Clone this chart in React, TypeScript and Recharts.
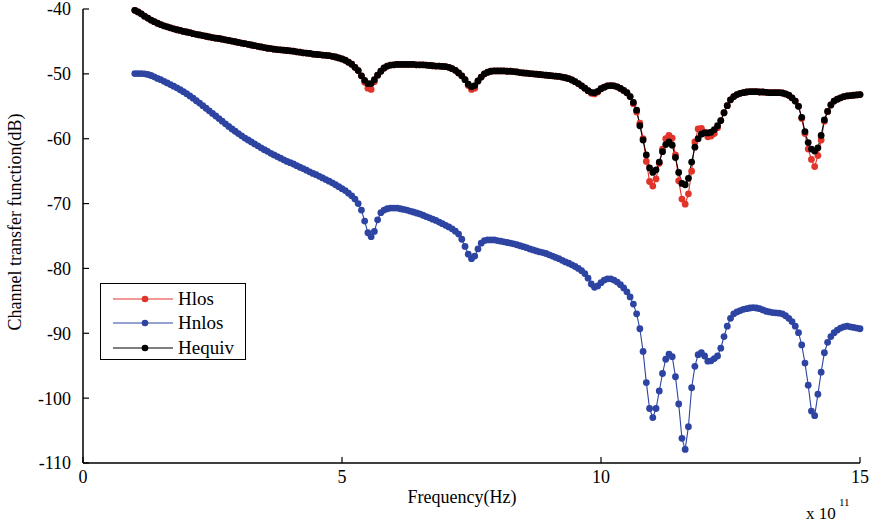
import React from 'react';
import { LineChart, Line, XAxis, YAxis, Legend, Label } from 'recharts';

// Sampling grid of the frequency axis (units of 1e11 Hz), 16 samples per unit from 1 to 15
const FREQ: number[] = Array.from({ length: 225 }, (_, i) => 1 + i / 16);

const X_TICKS = [0, 5, 10, 15];
const Y_TICKS = [-110, -100, -90, -80, -70, -60, -50, -40];

const HEQUIV = [
  -40.2, -40.45, -40.75, -41.1, -41.4, -41.7, -41.95, -42.2, -42.4, -42.6, -42.75, -42.9, -43.05, -43.2, -43.3, -43.45,
  -43.55, -43.65, -43.8, -43.9, -44.0, -44.1, -44.2, -44.3, -44.4, -44.5, -44.55, -44.65, -44.75, -44.85, -44.95, -45.05,
  -45.15, -45.25, -45.35, -45.45, -45.55, -45.65, -45.75, -45.85, -45.95, -46.05, -46.1, -46.2, -46.25, -46.3, -46.35, -46.4,
  -46.45, -46.5, -46.6, -46.65, -46.75, -46.8, -46.85, -46.95, -47.0, -47.05, -47.1, -47.15, -47.2, -47.3, -47.4, -47.55,
  -47.7, -47.9, -48.2, -48.5, -49.0, -49.5, -50.3, -51.0, -51.5, -51.5, -50.9, -50.2, -49.6, -49.1, -48.8, -48.65,
  -48.6, -48.55, -48.55, -48.55, -48.55, -48.55, -48.55, -48.6, -48.6, -48.6, -48.65, -48.7, -48.75, -48.8, -48.8, -48.85,
  -48.9, -49.0, -49.2, -49.45, -49.85, -50.3, -50.9, -51.6, -52.0, -51.8, -51.1, -50.5, -50.0, -49.75, -49.6, -49.55,
  -49.55, -49.55, -49.55, -49.6, -49.6, -49.65, -49.7, -49.8, -49.85, -49.9, -49.95, -50.0, -50.05, -50.1, -50.15, -50.2,
  -50.25, -50.3, -50.35, -50.4, -50.5, -50.6, -50.75, -50.95, -51.2, -51.5, -51.85, -52.2, -52.6, -52.85, -52.9, -52.7,
  -52.3, -52.05, -51.85, -51.8, -51.85, -52.0, -52.25, -52.55, -52.9, -53.5, -54.4, -55.6, -58.0, -60.2, -62.5, -64.5,
  -65.2, -64.8, -63.6, -62.0, -60.9, -60.5, -61.0, -62.9, -65.2, -66.9, -67.1, -66.1, -63.6, -61.3, -60.0, -59.3,
  -59.1, -59.1, -59.0, -58.6, -58.0, -57.2, -56.0, -54.9, -54.0, -53.5, -53.2, -53.0, -52.9, -52.8, -52.75, -52.75,
  -52.75, -52.8, -52.8, -52.85, -52.9, -52.9, -52.9, -52.9, -52.95, -53.1, -53.3, -53.7, -54.2, -55.0, -56.7, -58.9,
  -60.6, -61.6, -61.9, -61.4, -59.5, -57.1, -55.8, -54.8, -54.2, -53.9, -53.7, -53.5, -53.4, -53.35, -53.3, -53.25,
  -53.2,
];

const HLOS = [
  -40.2, -40.45, -40.75, -41.1, -41.4, -41.7, -41.95, -42.2, -42.4, -42.6, -42.75, -42.9, -43.05, -43.2, -43.3, -43.45,
  -43.55, -43.65, -43.8, -43.9, -44.0, -44.1, -44.2, -44.3, -44.4, -44.5, -44.55, -44.65, -44.75, -44.85, -44.95, -45.05,
  -45.15, -45.25, -45.35, -45.45, -45.55, -45.65, -45.75, -45.85, -45.95, -46.05, -46.1, -46.2, -46.25, -46.3, -46.35, -46.4,
  -46.45, -46.5, -46.6, -46.65, -46.75, -46.8, -46.85, -46.95, -47.0, -47.05, -47.1, -47.15, -47.2, -47.3, -47.4, -47.55,
  -47.7, -47.9, -48.2, -48.5, -49.0, -49.5, -50.3, -51.3, -52.2, -52.4, -51.2, -50.2, -49.6, -49.1, -48.8, -48.65,
  -48.6, -48.55, -48.55, -48.55, -48.55, -48.55, -48.55, -48.6, -48.6, -48.6, -48.65, -48.7, -48.75, -48.8, -48.8, -48.85,
  -48.9, -49.0, -49.2, -49.45, -49.85, -50.3, -50.9, -51.8, -52.4, -52.2, -51.1, -50.5, -50.0, -49.75, -49.6, -49.55,
  -49.55, -49.55, -49.55, -49.6, -49.6, -49.65, -49.7, -49.8, -49.85, -49.9, -49.95, -50.0, -50.05, -50.1, -50.15, -50.2,
  -50.25, -50.3, -50.35, -50.4, -50.5, -50.6, -50.75, -50.95, -51.2, -51.5, -51.85, -52.2, -52.6, -53.0, -53.1, -52.8,
  -52.3, -52.05, -51.85, -51.8, -51.85, -52.0, -52.25, -52.55, -52.9, -53.5, -54.6, -55.9, -57.6, -60.0, -63.5, -66.6,
  -67.3, -66.2, -63.8, -61.6, -60.0, -59.5, -59.9, -62.5, -66.5, -69.3, -70.1, -68.5, -65.0, -60.5, -58.5, -58.4,
  -59.0, -59.7, -59.6, -59.2, -58.3, -57.2, -56.0, -54.9, -54.0, -53.5, -53.2, -53.0, -52.9, -52.8, -52.75, -52.75,
  -52.75, -52.8, -52.8, -52.85, -52.9, -52.9, -52.9, -52.9, -52.95, -53.1, -53.3, -53.7, -54.2, -55.0, -56.9, -59.2,
  -61.6, -63.2, -64.3, -62.6, -60.2, -57.3, -55.8, -54.8, -54.2, -53.9, -53.7, -53.5, -53.4, -53.35, -53.3, -53.25,
  -53.2,
];

const HNLOS = [
  -49.95, -49.95, -49.95, -50.0, -50.1, -50.25, -50.45, -50.7, -50.9, -51.15, -51.4, -51.65, -51.9, -52.15, -52.45, -52.75,
  -53.05, -53.4, -53.75, -54.15, -54.5, -54.9, -55.3, -55.7, -56.1, -56.5, -56.9, -57.3, -57.7, -58.1, -58.5, -58.85,
  -59.2, -59.55, -59.9, -60.2, -60.5, -60.8, -61.1, -61.4, -61.7, -61.95, -62.25, -62.5, -62.75, -63.0, -63.25, -63.5,
  -63.7, -63.9, -64.15, -64.4, -64.6, -64.85, -65.1, -65.35, -65.55, -65.8, -66.05, -66.3, -66.55, -66.8, -67.1, -67.4,
  -67.7, -68.0, -68.4, -68.8, -69.3, -70.0, -71.0, -72.7, -74.5, -75.1, -74.3, -72.5, -71.4, -71.0, -70.8, -70.7,
  -70.7, -70.7, -70.8, -70.9, -71.0, -71.15, -71.3, -71.45, -71.6, -71.8, -72.0, -72.2, -72.4, -72.6, -72.85, -73.1,
  -73.35, -73.6, -73.9, -74.25, -74.7, -75.5, -76.6, -77.8, -78.5, -78.1, -77.0, -76.1, -75.7, -75.6, -75.6, -75.6,
  -75.7, -75.8, -75.9, -76.0, -76.1, -76.2, -76.35, -76.5, -76.65, -76.8, -77.0, -77.15, -77.3, -77.45, -77.55, -77.7,
  -77.9, -78.1, -78.3, -78.5, -78.75, -79.0, -79.2, -79.45, -79.7, -80.0, -80.35, -80.8, -81.5, -82.4, -82.9, -82.7,
  -82.2, -81.8, -81.6, -81.6, -81.8, -82.1, -82.5, -83.0, -83.6, -84.4, -85.5, -87.0, -89.3, -92.8, -97.6, -101.6,
  -103.0, -101.6, -98.9, -96.2, -94.0, -93.2, -93.6, -96.7, -100.9, -106.2, -107.9, -104.4, -98.4, -95.1, -93.3, -93.0,
  -93.5, -94.3, -94.25, -93.9, -93.5, -92.3, -90.5, -88.9, -87.7, -87.0, -86.7, -86.5, -86.3, -86.2, -86.1, -86.05,
  -86.1, -86.2, -86.4, -86.6, -86.7, -86.8, -86.85, -86.9, -87.0, -87.3, -87.7, -88.2, -88.9, -89.9, -91.8, -94.6,
  -98.0, -102.0, -102.7, -99.4, -96.0, -93.0, -91.4, -90.5, -89.9, -89.5, -89.2, -89.0, -88.9, -89.0, -89.1, -89.2,
  -89.3,
];

const SERIES = [
  { key: 'hnlos', name: 'Hnlos', color: '#2d44a2' },
  { key: 'hlos', name: 'Hlos', color: '#e3342a' },
  { key: 'hequiv', name: 'Hequiv', color: '#000000' },
];

const data = FREQ.map((f, i) => ({ f, hlos: HLOS[i], hnlos: HNLOS[i], hequiv: HEQUIV[i] }));

const FONT = '"Liberation Serif", "Times New Roman", serif';

const legendOrder = ['Hlos', 'Hnlos', 'Hequiv'];

const LegendBox = () => (
  <div
    style={{
      width: 146,
      height: 77,
      boxSizing: 'border-box',
      border: '1.3px solid #000',
      background: '#fff',
      position: 'relative',
      fontFamily: FONT,
    }}
  >
    {legendOrder.map((n, i) => {
      const s = SERIES.find((x) => x.name === n)!;
      const cy = 15 + i * 24.3;
      return (
        <div key={n} style={{ position: 'absolute', left: 0, top: cy - 12, height: 24, width: 146 }}>
          <svg width={75} height={24} style={{ position: 'absolute', left: 0, top: 0 }}>
            <line x1={12} x2={72} y1={12} y2={12} stroke={s.color} strokeWidth={1.2} />
            <circle cx={44} cy={12} r={3.3} fill={s.color} />
          </svg>
          <span
            style={{
              position: 'absolute',
              left: 77,
              top: 0,
              lineHeight: '24px',
              fontSize: 19,
              color: '#000',
            }}
          >
            {n}
          </span>
        </div>
      );
    })}
  </div>
);

const XLabel = () => (
  <g fontFamily={FONT} fill="#000">
    <text x={462} y={503} fontSize={18} textAnchor="middle">Frequency(Hz)</text>
    <text x={806} y={519} fontSize={17}>x 10</text>
    <text x={839} y={506} fontSize={11}>11</text>
  </g>
);

const YLabel = () => (
  <text
    x={15}
    y={222}
    transform="rotate(-90 15 222)"
    textAnchor="middle"
    dominantBaseline="central"
    fontSize={18}
    fontFamily={FONT}
    fill="#000"
  >
    Channel transfer function(dB)
  </text>
);

const tickStyle = { fill: '#000', fontSize: 18, fontFamily: FONT };
const axisLine = { stroke: '#000', strokeWidth: 1.5 };
const tickLine = { stroke: '#000', strokeWidth: 1.2 };

export default function App() {
  return (
    <div style={{ position: 'absolute', left: 0, top: 0, width: 869, height: 524, background: '#fff' }}>
      <LineChart width={869} height={524} data={data} margin={{ top: 9, right: 9, bottom: 0, left: 0 }}>
        <XAxis
          dataKey="f"
          type="number"
          domain={[0, 15]}
          ticks={X_TICKS}
          height={61}
          tickSize={-6}
          tickMargin={13}
          axisLine={axisLine}
          tickLine={tickLine}
          tick={tickStyle}
          interval={0}
        >
          <Label content={XLabel} />
        </XAxis>
        <XAxis
          xAxisId="top"
          orientation="top"
          dataKey="f"
          type="number"
          domain={[0, 15]}
          ticks={X_TICKS}
          height={0}
          mirror
          tick={false}
          tickSize={6}
          axisLine={axisLine}
          tickLine={tickLine}
        />
        <YAxis
          type="number"
          domain={[-110, -40]}
          ticks={Y_TICKS}
          width={83}
          tickSize={-6}
          tickMargin={18}
          axisLine={axisLine}
          tickLine={tickLine}
          tick={tickStyle}
          interval={0}
        >
          <Label content={YLabel} />
        </YAxis>
        <YAxis
          yAxisId="right"
          orientation="right"
          type="number"
          domain={[-110, -40]}
          ticks={Y_TICKS}
          width={0}
          mirror
          tick={false}
          tickSize={6}
          axisLine={axisLine}
          tickLine={tickLine}
        />
        {SERIES.map((s) => (
          <Line
            key={s.key}
            dataKey={s.key}
            name={s.name}
            stroke={s.color}
            strokeWidth={1.1}
            dot={{ r: 3.4, fill: s.color, stroke: 'none' }}
            activeDot={false}
            isAnimationActive={false}
          />
        ))}
        <Legend
          layout="vertical"
          align="center"
          verticalAlign="middle"
          content={LegendBox}
          wrapperStyle={{ left: 100, top: 283, width: 146, height: 77 }}
        />
      </LineChart>
    </div>
  );
}
